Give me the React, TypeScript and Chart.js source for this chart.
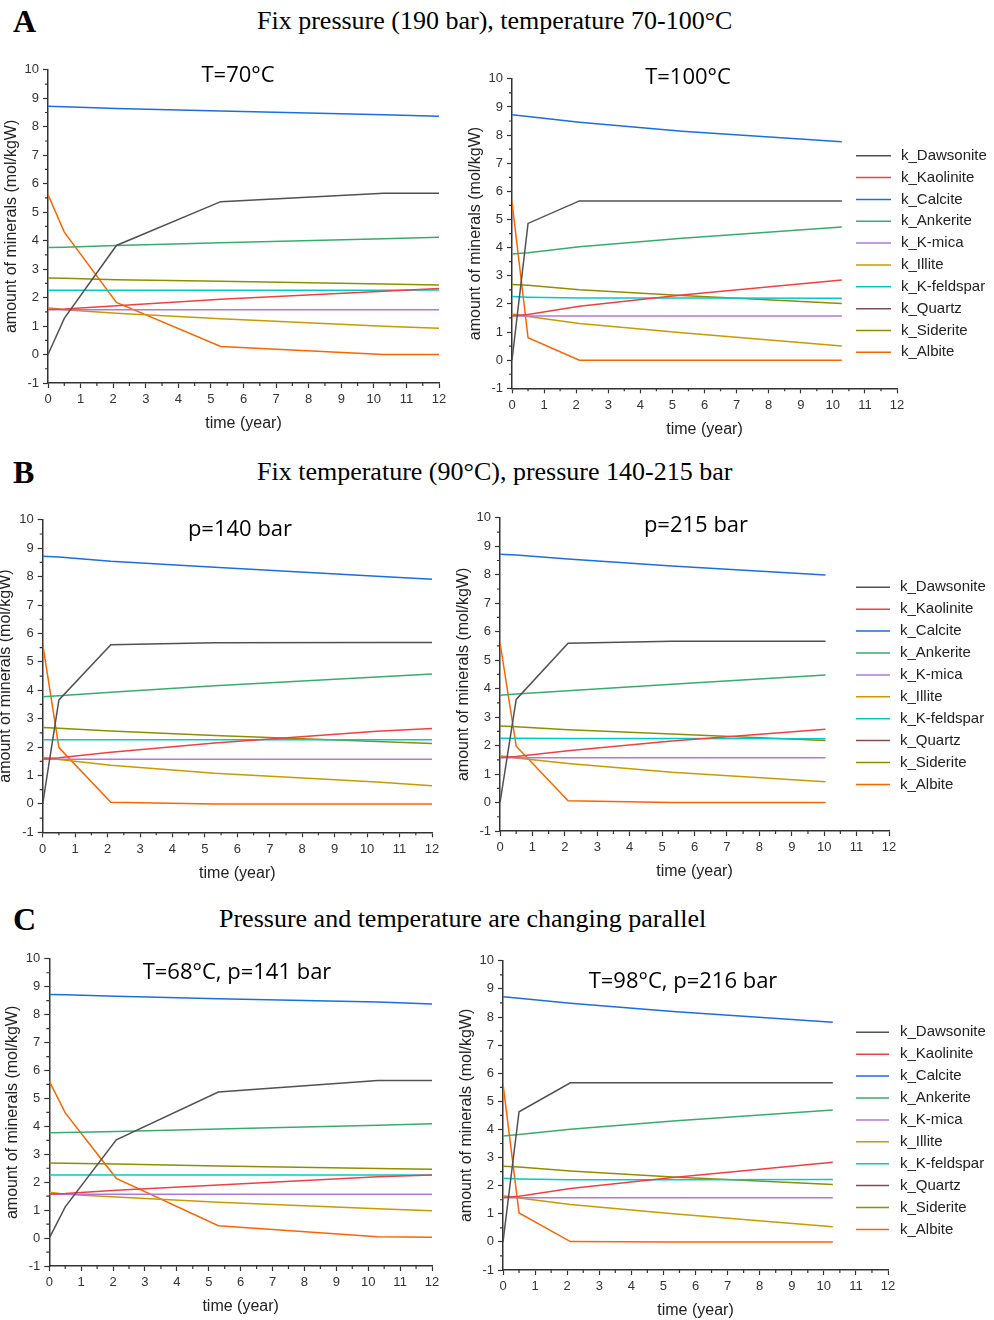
import React, { useEffect, useRef } from "react";
import { Chart, registerables } from "chart.js";

Chart.register(...registerables);

// ---------- data ----------
const MINERALS = [
  "k_Dawsonite",
  "k_Kaolinite",
  "k_Calcite",
  "k_Ankerite",
  "k_K-mica",
  "k_Illite",
  "k_K-feldspar",
  "k_Quartz",
  "k_Siderite",
  "k_Albite",
];
const COLORS = [
  "#515151",
  "#F14040",
  "#1A6FDF",
  "#37AD6B",
  "#B177DE",
  "#CC9900",
  "#00CBCC",
  "#7D4E4E",
  "#8E8E00",
  "#FB6501",
];

const X_TICKS = [0, 12];
const Y_TICKS = [-1, 10];

const TIMES_A70 = [0, 0.5, 2.1, 5.3, 10.3, 12];
const A70 = [
  [0, 1.27, 3.83, 5.37, 5.66, 5.66],
  [1.58, 1.6, 1.71, 1.94, 2.22, 2.32],
  [8.72, 8.7, 8.64, 8.55, 8.42, 8.37],
  [3.76, 3.77, 3.83, 3.93, 4.07, 4.12],
  [1.57, 1.57, 1.57, 1.57, 1.57, 1.57],
  [1.64, 1.57, 1.45, 1.26, 0.99, 0.92],
  [2.26, 2.26, 2.26, 2.26, 2.26, 2.27],
  [null, null, null, null, null, null],
  [2.69, 2.68, 2.63, 2.57, 2.48, 2.44],
  [5.62, 4.3, 1.83, 0.28, 0.0, 0.0],
];

const TIMES_A100 = [0, 0.5, 2.1, 5.3, 10.28];
const A100 = [
  [0, 4.86, 5.66, 5.66, 5.66],
  [1.58, 1.62, 1.92, 2.32, 2.85],
  [8.72, 8.66, 8.46, 8.14, 7.76],
  [3.77, 3.82, 4.03, 4.33, 4.73],
  [1.57, 1.57, 1.57, 1.57, 1.57],
  [1.64, 1.55, 1.3, 0.97, 0.5],
  [2.26, 2.24, 2.21, 2.21, 2.2],
  [null, null, null, null, null],
  [2.69, 2.66, 2.5, 2.3, 2.01],
  [5.62, 0.8, 0.0, 0.0, 0.0],
];

const TIMES_B140 = [0, 0.5, 2.1, 5.3, 10.3, 12];
const B140 = [
  [0, 3.66, 5.6, 5.67, 5.68, 5.68],
  [1.58, 1.62, 1.82, 2.14, 2.56, 2.65],
  [8.72, 8.69, 8.54, 8.33, 8.01, 7.91],
  [3.77, 3.81, 3.93, 4.16, 4.47, 4.57],
  [1.57, 1.57, 1.57, 1.57, 1.57, 1.57],
  [1.64, 1.56, 1.36, 1.08, 0.77, 0.64],
  [2.26, 2.26, 2.26, 2.26, 2.26, 2.26],
  [null, null, null, null, null, null],
  [2.69, 2.66, 2.57, 2.41, 2.2, 2.13],
  [5.62, 1.98, 0.06, 0.0, 0.0, 0.0],
];

const TIMES_B215 = [0, 0.5, 2.1, 5.3, 10.04];
const B215 = [
  [0, 3.62, 5.59, 5.66, 5.66],
  [1.58, 1.62, 1.82, 2.16, 2.57],
  [8.72, 8.69, 8.55, 8.31, 7.99],
  [3.77, 3.81, 3.93, 4.15, 4.48],
  [1.57, 1.57, 1.57, 1.57, 1.57],
  [1.64, 1.56, 1.37, 1.06, 0.73],
  [2.26, 2.26, 2.25, 2.25, 2.24],
  [null, null, null, null, null],
  [2.69, 2.66, 2.56, 2.41, 2.18],
  [5.62, 1.98, 0.06, 0.0, 0.0],
];

const TIMES_C68 = [0, 0.5, 2.1, 5.3, 10.3, 12];
const C68 = [
  [0, 1.12, 3.52, 5.23, 5.64, 5.64],
  [1.58, 1.6, 1.71, 1.9, 2.2, 2.26],
  [8.72, 8.71, 8.66, 8.57, 8.45, 8.38],
  [3.77, 3.78, 3.82, 3.91, 4.04, 4.09],
  [1.57, 1.57, 1.57, 1.57, 1.57, 1.57],
  [1.64, 1.57, 1.47, 1.28, 1.05, 0.98],
  [2.26, 2.26, 2.26, 2.26, 2.26, 2.26],
  [null, null, null, null, null, null],
  [2.69, 2.68, 2.65, 2.58, 2.49, 2.46],
  [5.62, 4.48, 2.14, 0.44, 0.05, 0.03],
];

const TIMES_C98 = [0, 0.5, 2.1, 5.3, 10.28];
const C98 = [
  [0, 4.63, 5.66, 5.66, 5.66],
  [1.58, 1.62, 1.9, 2.29, 2.83],
  [8.72, 8.67, 8.49, 8.2, 7.81],
  [3.77, 3.82, 4.01, 4.3, 4.69],
  [1.57, 1.57, 1.57, 1.57, 1.57],
  [1.64, 1.56, 1.33, 1.0, 0.54],
  [2.26, 2.24, 2.21, 2.21, 2.22],
  [null, null, null, null, null],
  [2.69, 2.66, 2.52, 2.31, 2.04],
  [5.62, 1.03, 0.01, 0.0, 0.0],
];

// ---------- layout ----------
const SANS = "'Liberation Sans', Arial, sans-serif";
const AXIS_COLOR = "#333333";

type PanelCfg = {
  times: number[];
  values: (number | null)[][];
  title: string;
  titleX: number;
  titleY: number;
  x0: number;
  x12: number;
  y10: number;
  yM1: number;
  legend?: { top: number; lineX1: number; lineX2: number; textX: number; spacing: number };
};

const PANELS: PanelCfg[] = [
  { times: TIMES_A70, values: A70, title: "T=70°C", titleX: 238, titleY: 73, x0: 48, x12: 439, y10: 68.3, yM1: 383 },
  {
    times: TIMES_A100, values: A100, title: "T=100°C", titleX: 688, titleY: 75, x0: 512, x12: 897, y10: 77.3, yM1: 388.3,
    legend: { top: 155.7, lineX1: 856, lineX2: 891, textX: 901, spacing: 21.85 },
  },
  { times: TIMES_B140, values: B140, title: "p=140 bar", titleX: 240, titleY: 526.7, x0: 42.7, x12: 432, y10: 518.3, yM1: 832.3 },
  {
    times: TIMES_B215, values: B215, title: "p=215 bar", titleX: 696, titleY: 523.3, x0: 500, x12: 889, y10: 516.7, yM1: 831,
    legend: { top: 587.3, lineX1: 856, lineX2: 890, textX: 900, spacing: 21.9 },
  },
  { times: TIMES_C68, values: C68, title: "T=68°C, p=141 bar", titleX: 237, titleY: 970, x0: 49.3, x12: 432, y10: 957.7, yM1: 1266 },
  {
    times: TIMES_C98, values: C98, title: "T=98°C, p=216 bar", titleX: 683, titleY: 979.3, x0: 503, x12: 888, y10: 959, yM1: 1270,
    legend: { top: 1032.3, lineX1: 856, lineX2: 889, textX: 900, spacing: 21.9 },
  },
];

const HEADERS = [
  { letter: "A", text: "Fix pressure (190 bar), temperature 70-100°C", y: 21, textX: 257 },
  { letter: "B", text: "Fix temperature (90°C), pressure 140-215 bar", y: 472, textX: 257 },
  { letter: "C", text: "Pressure and temperature are changing parallel", y: 919, textX: 219 },
];

const minorTicks = {
  id: "minorTicks",
  afterDraw(chart: any) {
    const { ctx, chartArea } = chart;
    const xs = chart.scales.x;
    const ys = chart.scales.y;
    ctx.save();
    ctx.strokeStyle = AXIS_COLOR;
    ctx.lineWidth = 1.2;
    ctx.beginPath();
    for (let v = xs.min + 0.5; v < xs.max; v += 1) {
      const px = xs.getPixelForValue(v);
      ctx.moveTo(px, chartArea.bottom);
      ctx.lineTo(px, chartArea.bottom + 3);
    }
    for (let v = ys.min + 0.5; v < ys.max; v += 1) {
      const py = ys.getPixelForValue(v);
      ctx.moveTo(chartArea.left, py);
      ctx.lineTo(chartArea.left - 3, py);
    }
    ctx.stroke();
    ctx.restore();
  },
};

const sideLegend = {
  id: "sideLegend",
  afterDraw(chart: any, _args: any, opts: any) {
    if (!opts || !opts.display) return;
    const { ctx } = chart;
    ctx.save();
    chart.data.datasets.forEach((ds: any, i: number) => {
      const y = opts.top + i * opts.spacing;
      ctx.strokeStyle = ds.borderColor;
      ctx.lineWidth = 1.5;
      ctx.beginPath();
      ctx.moveTo(opts.lineX1, y);
      ctx.lineTo(opts.lineX2, y);
      ctx.stroke();
      ctx.fillStyle = "#222222";
      ctx.font = `15px ${SANS}`;
      ctx.textBaseline = "middle";
      ctx.textAlign = "left";
      ctx.fillText(ds.label, opts.textX, y);
    });
    ctx.restore();
  },
};

function Panel({ cfg }: { cfg: PanelCfg }) {
  const ref = useRef<HTMLCanvasElement | null>(null);
  const left = Math.floor(cfg.x0) - 46;
  const top = Math.floor(cfg.y10) - 10;
  const yWidth = cfg.x0 - left;
  const padTop = cfg.y10 - top;
  const h = Math.ceil(cfg.yM1 + 50) - top;
  const xHeight = top + h - cfg.yM1;
  const w = cfg.legend ? 994 - left : Math.ceil(cfg.x12 + 14) - left;
  const padRight = left + w - cfg.x12;

  useEffect(() => {
    if (!ref.current) return;
    const datasets = MINERALS.map((name, i) => ({
      label: name,
      data: cfg.times.map((t, j) => ({ x: t, y: cfg.values[i][j] })),
      borderColor: COLORS[i],
      backgroundColor: COLORS[i],
      borderWidth: 1.5,
      pointRadius: 0,
      tension: 0,
      fill: false,
    }));
    const chart = new Chart(ref.current, {
      type: "line",
      data: { datasets },
      options: {
        animation: false,
        responsive: false,
        maintainAspectRatio: false,
        layout: { padding: { top: padTop, right: padRight, left: 0, bottom: 0 } },
        plugins: {
          legend: { display: false },
          tooltip: { enabled: false },
          title: { display: false },
          sideLegend: cfg.legend
            ? {
                display: true,
                top: cfg.legend.top - top,
                spacing: cfg.legend.spacing,
                lineX1: cfg.legend.lineX1 - left,
                lineX2: cfg.legend.lineX2 - left,
                textX: cfg.legend.textX - left,
              }
            : { display: false },
        } as any,
        scales: {
          x: {
            type: "linear",
            min: X_TICKS[0],
            max: X_TICKS[1],
            afterFit: (s: any) => {
              s.height = xHeight;
            },
            ticks: {
              stepSize: 1,
              autoSkip: false,
              maxRotation: 0,
              padding: 4,
              color: AXIS_COLOR,
              font: { family: SANS, size: 13 },
            },
            grid: {
              display: true,
              drawOnChartArea: false,
              drawTicks: true,
              tickLength: 5,
              tickColor: AXIS_COLOR,
              tickWidth: 1.2,
            },
            border: { display: true, color: AXIS_COLOR, width: 1.5 },
            title: {
              display: true,
              text: "time (year)",
              color: "#222222",
              font: { family: SANS, size: 16 },
              padding: 0,
            },
          },
          y: {
            type: "linear",
            min: Y_TICKS[0],
            max: Y_TICKS[1],
            afterFit: (s: any) => {
              s.width = yWidth;
            },
            ticks: {
              stepSize: 1,
              padding: 4,
              color: AXIS_COLOR,
              font: { family: SANS, size: 13 },
            },
            grid: {
              display: true,
              drawOnChartArea: false,
              drawTicks: true,
              tickLength: 5,
              tickColor: AXIS_COLOR,
              tickWidth: 1.2,
            },
            border: { display: true, color: AXIS_COLOR, width: 1.5 },
            title: {
              display: true,
              text: "amount of minerals (mol/kgW)",
              color: "#222222",
              font: { family: SANS, size: 16 },
              padding: 0,
            },
          },
        },
      } as any,
      plugins: [minorTicks, sideLegend],
    });
    return () => chart.destroy();
  }, []);

  return (
    <>
      <canvas
        ref={ref}
        width={w}
        height={h}
        style={{ position: "absolute", left, top, width: w + "px", height: h + "px" }}
      />
      <div
        style={{
          position: "absolute",
          left: cfg.titleX,
          top: cfg.titleY,
          transform: "translate(-50%, -50%)",
          fontFamily: "'Open Sans', sans-serif",
          fontSize: 22,
          lineHeight: 1,
          whiteSpace: "nowrap",
          color: "#000",
        }}
      >
        {cfg.title}
      </div>
    </>
  );
}

export default function App() {
  return (
    <div
      style={{
        position: "absolute",
        left: 0,
        top: 0,
        width: 994,
        height: 1320,
        overflow: "hidden",
        background: "#fff",
      }}
    >
      {HEADERS.map((hd) => (
        <React.Fragment key={hd.letter}>
          <div
            style={{
              position: "absolute",
              left: 13,
              top: hd.y,
              transform: "translateY(-50%)",
              fontFamily: "'Liberation Serif', 'Times New Roman', serif",
              fontWeight: "bold",
              fontSize: 32,
              lineHeight: 1,
              color: "#000",
            }}
          >
            {hd.letter}
          </div>
          <div
            style={{
              position: "absolute",
              left: hd.textX,
              top: hd.y,
              transform: "translateY(-50%)",
              fontFamily: "'Liberation Serif', 'Times New Roman', serif",
              fontSize: 26,
              lineHeight: 1,
              whiteSpace: "nowrap",
              color: "#000",
            }}
          >
            {hd.text}
          </div>
        </React.Fragment>
      ))}
      {PANELS.map((p, i) => (
        <Panel key={i} cfg={p} />
      ))}
    </div>
  );
}
